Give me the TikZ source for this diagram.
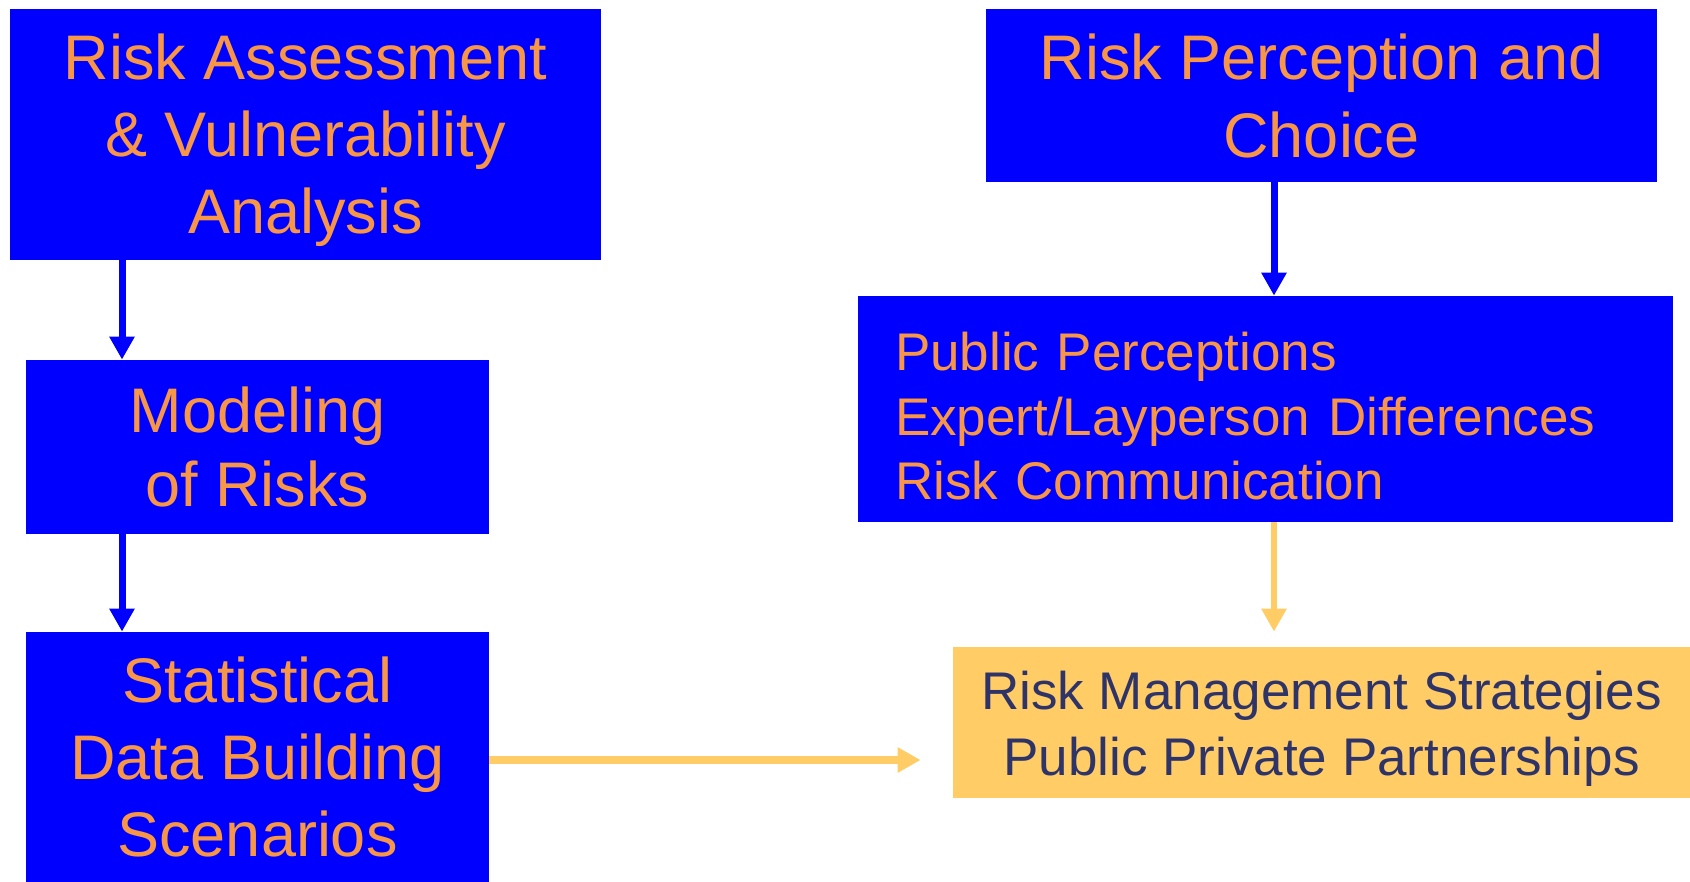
\documentclass[tikz,border=0pt]{standalone}
\usepackage{fontspec}
\setmainfont{Liberation Sans}
\usetikzlibrary{arrows.meta}
\definecolor{bbox}{HTML}{0000FF}
\definecolor{otext}{HTML}{F79646}
\definecolor{gold}{HTML}{FFCC66}
\definecolor{navy}{HTML}{2F3468}
\tikzset{
  bluebox/.style={fill=bbox, draw=none, text=otext, align=center, inner sep=0pt},
  goldbox/.style={fill=gold, draw=none, text=navy, align=center, inner sep=0pt},
  bigfont/.style={font={\fontsize{31.5}{38.5}\selectfont}},
  midfont/.style={font={\fontsize{26.5}{33}\selectfont}},
  barrow/.style={draw=bbox, line width=3.5pt, -{Triangle[length=11.5pt,width=12pt]}},
  yarrow/.style={draw=gold, line width=3pt, -{Triangle[length=11.5pt,width=12pt]}},
}
\begin{document}
\begin{tikzpicture}[x=0.5pt,y=-0.5pt]
\useasboundingbox (0,0) rectangle (1690,882);
\node[bluebox, minimum width=295.5pt, minimum height=125.5pt,
  label={[bigfont, text=otext, align=center, inner sep=0pt, yshift=-2.7pt]center:{Risk Assessment\\\& Vulnerability\\Analysis}}] (A) at (305.5,134.5) {};
\node[bluebox, font={\fontsize{31.5}{37}\selectfont}, minimum width=231.5pt, minimum height=87pt] (B) at (257.5,447)
  {Modeling\\of Risks};
\node[bluebox, bigfont, minimum width=231.5pt, minimum height=125pt] (C) at (257.5,757)
  {Statistical\\Data Building\\Scenarios};
\node[bluebox, font={\fontsize{31.5}{39}\selectfont}, minimum width=335.5pt, minimum height=86.5pt] (D) at (1321.5,95.5)
  {Risk Perception and\\Choice};
\node[bluebox, minimum width=407.5pt, minimum height=113pt,
  label={[font={\fontsize{26.5}{32.3}\selectfont}, text=otext, align=left, text width=370.5pt, inner sep=0pt, yshift=-3.7pt]center:{Public Perceptions\\Expert/Layperson Differences\\Risk Communication}}] (E) at (1265.5,409) {};
\node[goldbox, minimum width=368.5pt, minimum height=75.5pt,
  label={[midfont, text=navy, align=center, inner sep=0pt, yshift=-3.2pt]center:{Risk Management Strategies\\Public Private Partnerships}}] (F) at (1321.5,722.5) {};
\coordinate (lx) at (122,0);
\coordinate (rx) at (1274,0);
\coordinate (hy) at (0,760);
\draw[barrow] (A.south -| lx) -- (B.north -| lx);
\draw[barrow] (B.south -| lx) -- (C.north -| lx);
\draw[barrow] (D.south -| rx) -- (E.north -| rx);
\draw[yarrow, shorten >=7.5pt] (E.south -| rx) -- (F.north -| rx);
\draw[yarrow, line width=4pt, shorten >=16pt] (C.east |- hy) -- (F.west |- hy);
\end{tikzpicture}
\end{document}
